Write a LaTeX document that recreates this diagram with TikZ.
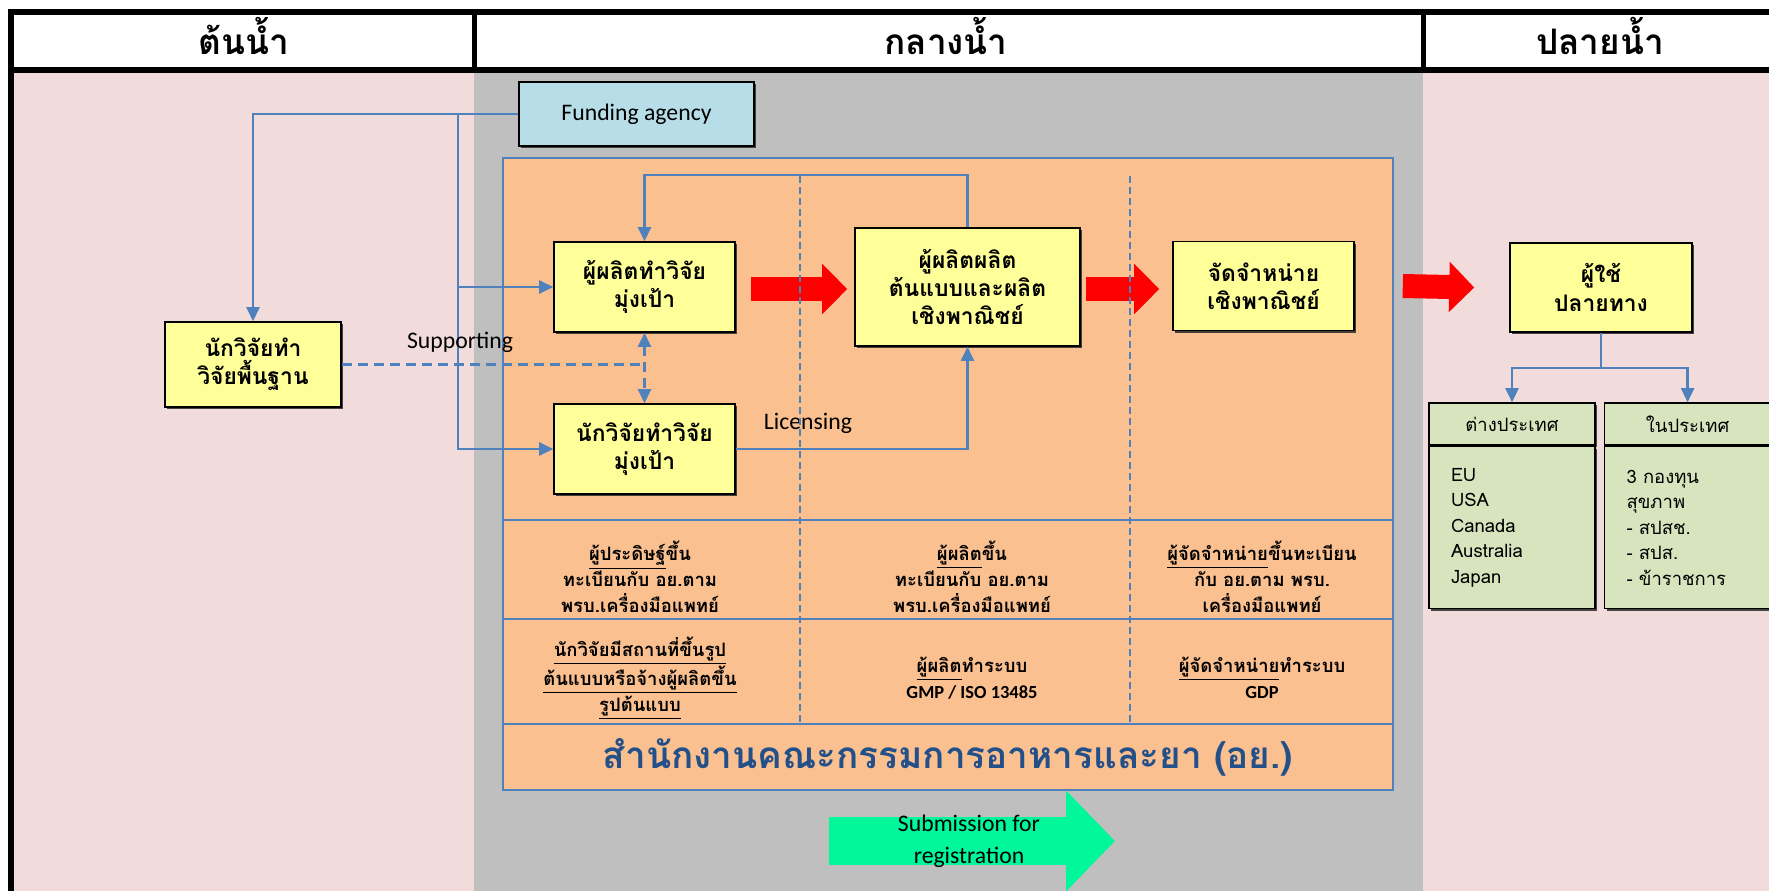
\documentclass[tikz,border=0pt]{standalone}
\usepackage{fontspec}
\setmainfont[Script=Thai]{Loma}
\newfontfamily\carl{Carlito}
\usetikzlibrary{arrows.meta,positioning,calc,shadows}
\definecolor{uppink}{HTML}{F2DCDB}
\definecolor{midgray}{HTML}{BFBFBF}
\definecolor{fdaorange}{HTML}{FAC090}
\definecolor{linkblue}{HTML}{4F81BD}
\definecolor{boxyellow}{HTML}{FFFF99}
\definecolor{fundblue}{HTML}{B7DEE8}
\definecolor{tabgreen}{HTML}{D7E4BD}
\definecolor{fdanavy}{HTML}{24508A}
\definecolor{subgreen}{HTML}{00F79A}
\tikzset{
  hdr/.style={font=\fontsize{20}{24}\selectfont\bfseries},
  boxshadow/.style={drop shadow={shadow xshift=0.4mm, shadow yshift=-0.4mm, fill=black!80, opacity=0.9}},
  ybox/.style={draw=black, line width=0.9pt, fill=boxyellow, align=center, boxshadow,
    font=\fontsize{13}{16}\selectfont\bfseries},
  fundbox/.style={draw=black, line width=0.9pt, fill=fundblue, boxshadow,
    minimum width=47mm, minimum height=12.8mm, font=\carl\fontsize{13.5}{16}\selectfont},
  rowcell/.style={align=center, font=\fontsize{10.5}{14.8}\selectfont\bfseries},
  thead/.style={draw=black, line width=0.9pt, fill=tabgreen, boxshadow,
    minimum width=33.2mm, minimum height=8.4mm, font=\fontsize{10.5}{13}\selectfont},
  tbody/.style={draw=black, line width=0.9pt, fill=tabgreen, boxshadow, align=left,
    minimum width=33.2mm, text width=24.4mm, inner xsep=4.4mm, minimum height=32.4mm,
    font=\fontsize{10.5}{14.5}\selectfont},
  lbl/.style={font=\carl\fontsize{13.5}{16}\selectfont},
  conn/.style={-{Triangle[length=2.8mm,width=2.6mm]}, line width=0.45mm, linkblue},
  dashconn/.style={line width=0.45mm, linkblue, dash pattern=on 2mm off 1.2mm},
  panelline/.style={line width=0.3mm, linkblue},
  paneldash/.style={line width=0.3mm, linkblue, dash pattern=on 1.3mm off 0.9mm},
  redarr/.style={line width=4.8mm, red, -{Triangle[length=5mm,width=9.8mm]}},
  subarr/.style={line width=9.6mm, subgreen, -{Triangle[length=9.8mm,width=19.6mm]}},
  framerule/.style={line width=1.2mm, black}
}

\begin{document}
\begin{tikzpicture}[x=0.2mm, y=-0.2mm]
  \useasboundingbox (0,0) rectangle (1769,891);
  % three bands
  \fill[uppink] (11,70) rectangle (474,891);
  \fill[midgray] (474,70) rectangle (1423,891);
  \fill[uppink] (1423,70) rectangle (1769,891);
  \fill[white] (11,12) rectangle (1769,70);
  \draw[framerule] (8,12) -- (1769,12);
  \draw[framerule] (11,9) -- (11,891);
  \draw[framerule] (11,70) -- (1769,70);
  \draw[framerule, line width=1mm] (474,12) -- (474,70);
  \draw[framerule, line width=1mm] (1423,12) -- (1423,70);
  \node[hdr] (hup) at (244,36) {ต้นน้ำ};
  \node[hdr] (hmid) at (946,36) {กลางน้ำ};
  \node[hdr] (hdown) at (1600,36) {ปลายน้ำ};

  % FDA panel
  \draw[panelline, fill=fdaorange] (503,158) rectangle (1393,790);
  \draw[panelline] (503,520) -- (1393,520);
  \draw[panelline] (503,619) -- (1393,619);
  \draw[panelline] (503,724) -- (1393,724);

  \node[fundbox] (fund) at (636.5,114) {Funding agency};
  \node[ybox, minimum width=35.2mm, minimum height=17mm] (basic) at (253,364.5) {นักวิจัยทำ\\วิจัยพื้นฐาน};
  \node[ybox, minimum width=36.2mm, minimum height=18mm] (r1) at (644.5,287) {ผู้ผลิตทำวิจัย\\มุ่งเป้า};
  \node[ybox, minimum width=36.2mm, minimum height=18mm] (r2) at (644.5,449) {นักวิจัยทำวิจัย\\มุ่งเป้า};
  \node[ybox, minimum width=45mm, minimum height=23.6mm] (mfg) at (967.5,287) {ผู้ผลิตผลิต\\ต้นแบบและผลิต\\เชิงพาณิชย์};
  \node[ybox, minimum width=36.2mm, minimum height=17.8mm] (dist) at (1263.5,286) {จัดจำหน่าย\\เชิงพาณิชย์};
  \node[ybox, minimum width=36.4mm, minimum height=17.8mm] (user) at (1601,287.5) {ผู้ใช้\\ปลายทาง};

  \node[thead] (t1h) at (1512,424) {ต่างประเทศ};
  \node[thead, right=1.6mm of t1h] (t2h) {ในประเทศ};
  \node[tbody, below=0pt of t1h] (t1b) {EU\\USA\\Canada\\Australia\\Japan};
  \node[tbody, below=0pt of t2h] (t2b) {3 กองทุน\\สุขภาพ\\- สปสช.\\- สปส.\\- ข้าราชการ};

  % rows of the panel
  \node[rowcell] (c11) at (640,577) {\underline{ผู้ประดิษฐ์}ขึ้น\\ทะเบียนกับ อย.ตาม\\พรบ.เครื่องมือแพทย์};
  \node[rowcell] (c12) at (972,577) {\underline{ผู้ผลิต}ขึ้น\\ทะเบียนกับ อย.ตาม\\พรบ.เครื่องมือแพทย์};
  \node[rowcell] (c13) at (1262,577) {\underline{ผู้จัดจำหน่าย}ขึ้นทะเบียน\\กับ อย.ตาม พรบ.\\เครื่องมือแพทย์};
  \node[rowcell] (c21) at (640,678) {\underline{นักวิจัยมีสถานที่ขึ้นรูป}\\\underline{ต้นแบบหรือจ้างผู้ผลิตขึ้น}\\\underline{รูปต้นแบบ}};
  \node[rowcell] (c22) at (972,678) {\underline{ผู้ผลิต}ทำระบบ\\{\carl GMP / ISO 13485}};
  \node[rowcell] (c23) at (1262,678) {\underline{ผู้จัดจำหน่าย}ทำระบบ\\{\carl GDP}};
  \node[font=\fontsize{21}{25}\selectfont\bfseries, text=fdanavy] (fda) at (948,757) {สำนักงานคณะกรรมการอาหารและยา (อย.)};

  % connectors
  \coordinate (trunk) at ($(fund.west)+(-60,0)$);
  \draw[conn] (fund.west) -| (basic.north);
  \draw[conn] (trunk) |- (r1.west);
  \draw[conn] (trunk) |- (r2.west);
  \draw[dashconn] (basic.east) -- (basic.east -| r1.south);
  \draw[dashconn, {Triangle[length=2.8mm,width=2.6mm]}-{Triangle[length=2.8mm,width=2.6mm]}] (r1.south) -- (r2.north);
  \node[lbl] (supp) at (460,342) {Supporting};
  \draw[conn] (mfg.north) -- ++(0,-52) -| (r1.north);
  \draw[conn] (r2.east) -| (mfg.south);
  \node[lbl] (lic) at (808,423) {Licensing};
  \draw[linkblue, line width=0.45mm] (user.south) -- ++(0,35) coordinate (split);
  \draw[conn] (split) -| (t1h.north);
  \draw[conn] (split) -| (t2h.north);

  % flow arrows
  \draw[redarr] ($(r1.east)+(15,2)$) -- ($(mfg.west)+(-7,2)$);
  \draw[redarr] ($(mfg.east)+(5,2)$) -- ($(dist.west)+(-13,3)$);
  \draw[redarr] ($(dist.east)+(48,0)$) -- ($(user.west)+(-35,0)$);

  \draw[paneldash] (800,176) -- (800,722);
  \draw[paneldash] (1130,176) -- (1130,722);

  \coordinate (subtail) at (829,841);
  \draw[subarr] (subtail) -- ++(286,0);
  \node[lbl, align=center, font=\carl\fontsize{13.5}{18.2}\selectfont] (subm) at (969,841) {Submission for\\registration};
\end{tikzpicture}
\end{document}
